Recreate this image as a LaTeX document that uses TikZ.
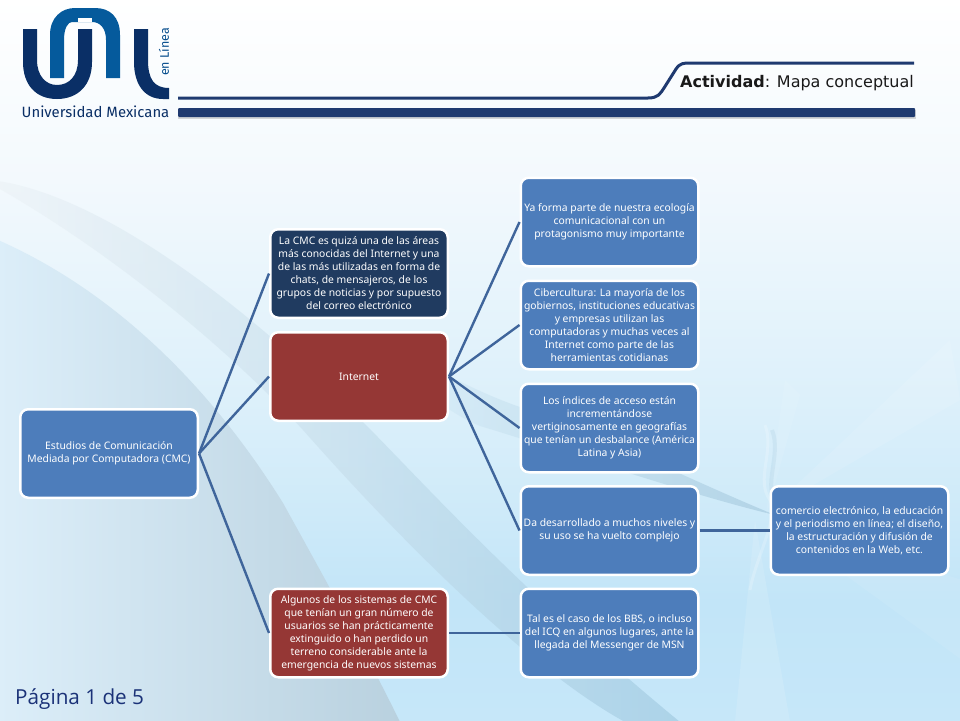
\documentclass[tikz,border=0pt]{standalone}
\usepackage{fontspec}
\setmainfont{Noto Sans}
\newfontfamily\headfont{DejaVu Sans}
\newfontfamily\logofont{Fira Sans}
\newfontfamily\pagefont{Open Sans}
\usetikzlibrary{shadings,fadings}
\definecolor{boxblue}{HTML}{4D7DBB}
\definecolor{boxdark}{HTML}{203B60}
\definecolor{boxred}{HTML}{953735}
\definecolor{linkblue}{HTML}{3F659B}
\definecolor{logodark}{HTML}{0A2F66}
\definecolor{logolight}{HTML}{055A9C}
\definecolor{rulenavy}{HTML}{1F3A70}
\definecolor{bga}{HTML}{FFFFFF}
\definecolor{bgb}{HTML}{F3F9FD}
\definecolor{bgc}{HTML}{DAEFFA}
\definecolor{bgd}{HTML}{C2E5F8}
\definecolor{bge}{HTML}{C6E7F9}
\definecolor{swgrey}{HTML}{B9D1DF}
\definecolor{swleft}{HTML}{DCEEF9}
\definecolor{bandright}{HTML}{A2CBE2}
\definecolor{bandmid}{HTML}{C6DCE9}
\definecolor{bandleft}{HTML}{EDF3F7}
\definecolor{spindle}{HTML}{9CC2D8}
\pgfdeclareverticalshading{bgv}{100bp}{color(0bp)=(bge); color(25bp)=(bge); color(33.3bp)=(bgd); color(45.8bp)=(bgc); color(62.5bp)=(bgb); color(75bp)=(bga); color(100bp)=(bga)}
\tikzset{
  x=1pt,y=-1pt,
  box/.style={rounded corners=8pt,draw=white,line width=2.5pt,minimum width=177.5pt,minimum height=88.5pt,inner sep=0pt,align=center,text=white,font=\fontsize{10.35}{13}\selectfont},
  bluebox/.style={box,fill=boxblue},
  darkbox/.style={box,fill=boxdark},
  redbox/.style={box,fill=boxred},
  link/.style={draw=linkblue,line width=2.4pt},
  rulebar/.style={draw=rulenavy,line width=3pt},
}
\begin{document}
\begin{tikzpicture}
\useasboundingbox (0,0) rectangle (960,720);
% background
\fill[shading=bgv] (-2,-2) rectangle (962,722);
\shade[left color=swleft,right color=swgrey]
  (-2,240) .. controls (100,285) and (200,370) .. (283,503) .. controls (320,570) and (370,660) .. (400,722) -- (-2,722) -- cycle;
\shade[left color=bandleft,middle color=bandmid,right color=bandright,opacity=.7]
  (-2,181) .. controls (90,195) and (220,280) .. (367,426) .. controls (430,490) and (520,590) .. (680,722) -- (625,722) .. controls (530,670) and (400,540) .. (303,430) .. controls (210,330) and (90,240) .. (-2,188) -- cycle;
\shade[left color=bgc,right color=spindle,opacity=.55]
  (370,335) .. controls (420,360) and (470,390) .. (520,407) .. controls (590,430) and (690,480) .. (775,515) .. controls (690,495) and (560,450) .. (480,426) .. controls (440,410) and (400,370) .. (370,335) -- cycle;
\fill[white,opacity=.10] (770,510) -- (950,340) -- (960,400) -- cycle;
\fill[white,opacity=.12] (755,520) -- (735,722) -- (790,722) -- cycle;
\fill[white,opacity=.08] (770,520) -- (962,660) -- (962,580) -- cycle;
\fill[white,opacity=.08] (765,520) -- (785,380) -- (800,395) -- cycle;
\draw[white,opacity=.2,line width=3pt] (765,425) .. controls (775,450) and (755,480) .. (770,500) .. controls (780,515) and (755,560) .. (750,590);
\draw[spindle,opacity=.2,line width=4pt] (772,430) .. controls (782,455) and (762,485) .. (777,505);
% header logo
\fill[logodark] (23,29) -- (37,29) -- (37,60) .. controls (37,76) and (46,85) .. (57,85) .. controls (69,85) and (78,76) .. (78,60) -- (78,29) -- (92,29) -- (92,62) .. controls (92,85) and (78,99) .. (57,99) .. controls (36,99) and (23,85) .. (23,62) -- cycle;
\fill[logolight] (50,78) -- (50,35) .. controls (50,17) and (62,8) .. (75,8) -- (95,8) .. controls (110,8) and (120,17) .. (120,35) -- (120,78) -- (106,78) -- (106,40) .. controls (106,28) and (100,22) .. (92,22) -- (72,22) .. controls (68,22) and (64,28) .. (64,40) -- (64,78) -- cycle;
\fill[white] (78,18) rectangle (92,22);
\fill[logodark] (134,29) -- (148,29) -- (148,60) .. controls (148,79) and (154,88) .. (169,88) -- (169,99) -- (163,99) .. controls (145,99) and (134,85) .. (134,62) -- cycle;
\node[rotate=90,text=logolight!70!logodark,font=\logofont\fontsize{12.5}{14}\selectfont,inner sep=0pt] (enlinea) at (164,52) {en Línea};
\node[text=logodark,font=\logofont\fontsize{14.9}{16}\selectfont,inner sep=0pt] (unam) at (95.5,112) {Universidad Mexicana};
% header rules
\fill[black,opacity=.15] (178,110) rectangle (916,119);
\draw[rulebar] (178,98) -- (648,98) .. controls (658,98) and (660,94) .. (664,88) -- (676,69) .. controls (680,63) and (684,63) .. (690,63) -- (914,63);
\fill[rulenavy,rounded corners=1pt] (178,108) rectangle (915,117);
\node[anchor=base east,inner sep=0pt,text=black!90,font=\headfont\fontsize{16}{18}\selectfont] (title) at (914,87.5) {\textbf{Actividad}: Mapa conceptual};
% boxes
\node[bluebox] (root) at (109,453.5) {Estudios de Comunicación\\Mediada por Computadora (CMC)};
\node[darkbox] (cmc) at (359,273.5) {La CMC es quizá una de las áreas\\más conocidas del Internet y una\\de las más utilizadas en forma de\\chats, de mensajeros, de los\\grupos de noticias y por supuesto\\del correo electrónico};
\node[redbox] (internet) at (359,376.5) {Internet};
\node[redbox] (sistemas) at (359,633) {Algunos de los sistemas de CMC\\que tenían un gran número de\\usuarios se han prácticamente\\extinguido o han perdido un\\terreno considerable ante la\\emergencia de nuevos sistemas};
\node[bluebox] (ecologia) at (609.5,222) {Ya forma parte de nuestra ecología\\comunicacional con un\\protagonismo muy importante};
\node[bluebox] (ciber) at (609.5,325) {Cibercultura: La mayoría de los\\gobiernos, instituciones educativas\\y empresas utilizan las\\computadoras y muchas veces al\\Internet como parte de las\\herramientas cotidianas};
\node[bluebox] (indices) at (609.5,428) {Los índices de acceso están\\incrementándose\\vertiginosamente en geografías\\que tenían un desbalance (América\\Latina y Asia)};
\node[bluebox] (niveles) at (609.5,530.5) {Da desarrollado a muchos niveles y\\su uso se ha vuelto complejo};
\node[bluebox] (bbs) at (609.5,633) {Tal es el caso de los BBS, o incluso\\del ICQ en algunos lugares, ante la\\llegada del Messenger de MSN};
\node[bluebox] (comercio) at (859.5,530.5) {comercio electrónico, la educación\\y el periodismo en línea; el diseño,\\la estructuración y difusión de\\contenidos en la Web, etc.};
% connectors
\draw[link] (root.east) -- (cmc.west);
\draw[link] (root.east) -- (internet.west);
\draw[link] (root.east) -- (sistemas.west);
\draw[link] (internet.east) -- (ecologia.west);
\draw[link] (internet.east) -- (ciber.west);
\draw[link] (internet.east) -- (indices.west);
\draw[link] (internet.east) -- (niveles.west);
\draw[link] (sistemas.east) -- (bbs.west);
\draw[link] (niveles.east) -- (comercio.west);
% page label
\node[anchor=base west,inner sep=0pt,text=boxdark!85!blue,font=\pagefont\fontsize{20.7}{24}\selectfont] (pagina) at (15,704) {Página 1 de 5};
\end{tikzpicture}
\end{document}
